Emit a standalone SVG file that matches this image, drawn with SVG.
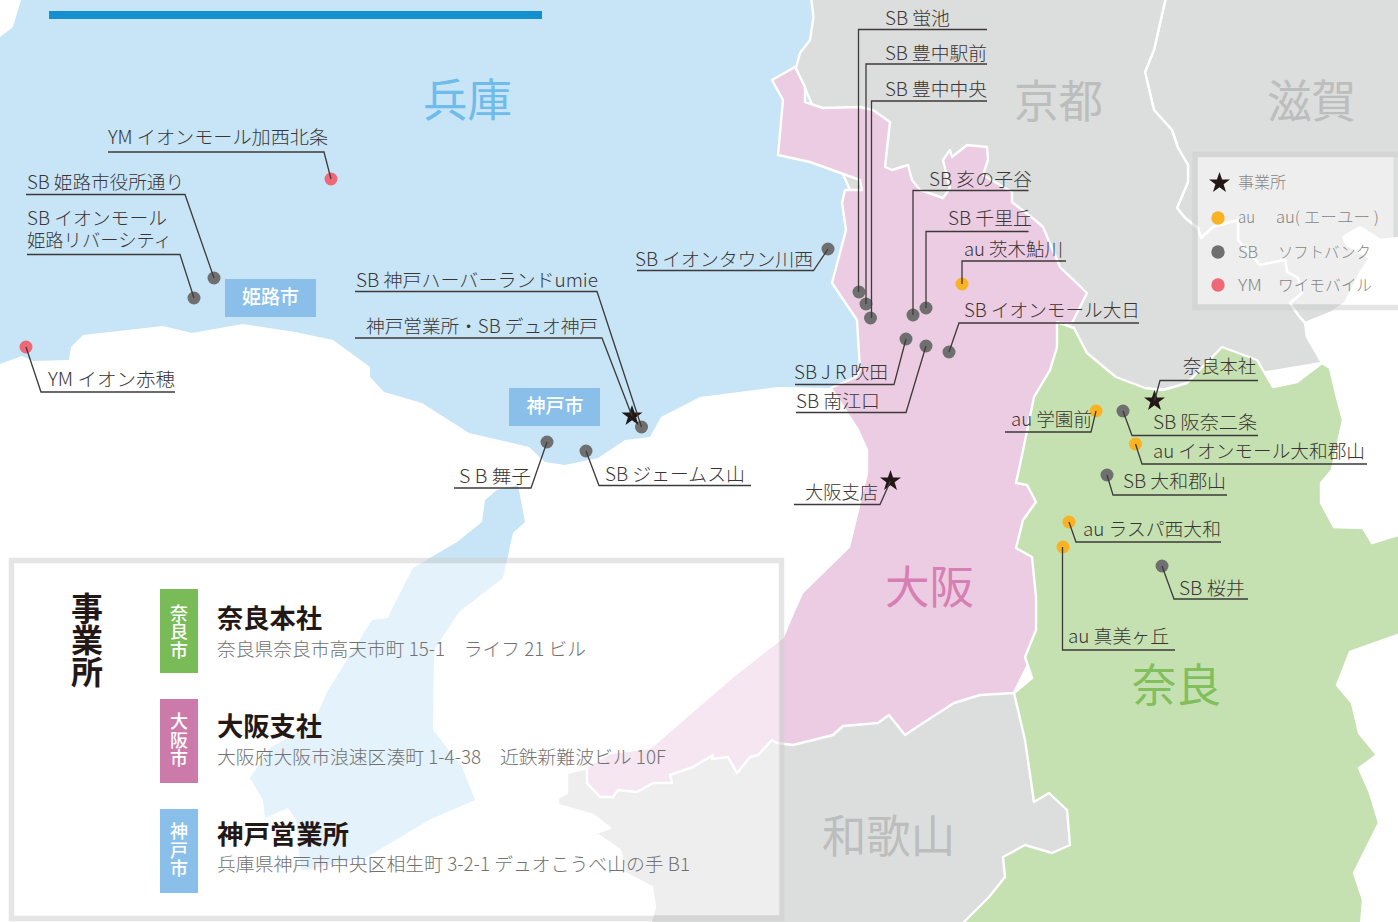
<svg xmlns="http://www.w3.org/2000/svg" width="1398" height="922" viewBox="0 0 1398 922">
<style>
text{font-family:"Noto Sans CJK JP","Noto Sans",sans-serif;}
.l{font-size:18.5px;font-weight:300;fill:#3a3534;}
.c{fill:none;stroke:#3e3a39;stroke-width:1.3;}
.gr{fill:#6f6f6f}.ye{fill:#f9b222}.re{fill:#ef6877}.st{fill:#231815}
.map{stroke:#fff;stroke-width:2.4;stroke-linejoin:round}
.t{font-size:45px;font-weight:400}
.bx{fill:#8abfe9}
.w{fill:#fff;font-size:19px;font-weight:500;text-anchor:middle}
.v{fill:#fff;font-size:18px;font-weight:500;writing-mode:vertical-rl;letter-spacing:.5px}
.lg{font-size:15.5px;font-weight:300;fill:#858585}
.h{font-size:26px;font-weight:700;fill:#231815}
.a{font-size:18.5px;font-weight:300;fill:#727171}
</style>
<defs>
<path id="star" d="M0,-11 L2.6,-3.4 L10.5,-3.4 L4.1,1.3 L6.5,9 L0,4.3 L-6.5,9 L-4.1,1.3 L-10.5,-3.4 L-2.6,-3.4Z"/>
</defs>
<g id="map">
<polygon fill="#c7e5f7" points="21,0 815,0 870,200 862,350 856,377 831,388 778,387 700,397 661,417 650,437 625,440 598,458 565,465 545,462 529,447 469,433 422,403 384,392 370,377 370,367 333,340 295,332 243,324 192,333 163,326 83,335 71,347 69,360 33,361 22,356 0,364 0,37 13,27"/>
<polygon fill="#c7e5f7" points="518,485 497,490 485,500 482,522 457,542 413,568 393,607 388,618 372,620 327,692 314,723 270,748 250,778 263,800 265,818 288,808 296,820 301,870 306,870 367,857 429,820 475,800 462,767 433,730 434,650 459,612 503,578 513,533 525,522"/>
<polygon class="map" fill="#dcdddd" points="567,773 587,768 640,770 780,720 1014,690 1075,800 1075,850 1000,925 650,925 655,907 652,887 625,873 620,850 595,833 610,828 593,815 558,805 558,798 567,793"/>
<polygon class="map" fill="#dcdddd" points="1166,-3 1401,-3 1401,238 1380,240 1360,227 1343,237 1347,245 1370,258 1360,273 1345,303 1332,312 1305,323 1298,315 1290,303 1302,293 1298,278 1287,272 1285,260 1260,265 1238,240 1238,220 1213,227 1201,238 1198,228 1185,218 1177,208 1188,182 1188,165 1178,148 1172,130 1154,110 1145,72 1154,50"/>
<polygon class="map" fill="#dcdddd" points="811,-3 1166,-3 1154,50 1145,72 1154,110 1172,130 1178,148 1188,165 1188,182 1177,208 1185,218 1198,228 1201,238 1213,227 1238,220 1238,240 1260,265 1285,260 1287,272 1298,278 1302,293 1290,303 1298,315 1305,323 1307,337 1322,363 1100,400 1060,320 850,190 796,68 800,53 810,40 813.500,17"/>
<polygon class="map" fill="#ebcce2" points="772,80 795,67 805,87 805,102 823,108 860,107 873,110 890,122 885,167 892,170 908,165 912,180 920,190 943,198 950,188 943,160 950,150 952,157 967,145 987,147 988,160 983,175 1012,192 1012,202 1035,220 1043,227 1060,267 1087,293 1072,323 1058,323 1080,400 1040,560 1040,640 1014,693 980,695 954,703 923,723 905,735 889,715 878,723 843,726 833,735 793,745 777,743 772,740 758,755 750,757 737,773 728,757 712,759 713,755 693,767 670,775 672,783 653,783 637,792 618,790 613,797 600,797 587,783 587,767 610,753 650,748 732,677 783,637 790,620 802,593 849,547 867,473 867,450 858,430 831,388 856,377 860,370 857,320 832,283 846,230 842,203 845,190 862,190 860,180 810,162 778,155 783,100"/>
<polygon class="map" fill="#c6e1b1" points="1057,322 1074,328 1087,353 1116,377 1145,388 1163,390 1187,383 1222,347 1257,360 1273,387 1297,382 1322,363 1330,368 1337,398 1343,420 1332,470 1321,483 1321,503 1334,527 1363,528 1372,543 1398,535 1401,535 1401,634 1398,635 1350,652 1337,685 1352,703 1359,733 1377,755 1359,768 1370,793 1379,823 1354,873 1363,900 1361,925 961,925 989,897 1005,877 1003,857 1025,845 1052,853 1070,845 1067,810 1049,793 1034,802 1025,740 1014,693 1032,678 1025,657 1036,630 1036,597 1032,557 1016,548 1023,520 1036,502 1027,485 1016,483 1021,460 1034,397 1050,370 1057,347"/>
</g>
<rect id="bar" x="49" y="11" width="493" height="8" fill="#1490cf"/>
<g id="panels">
<rect x="14" y="563" width="766" height="352" fill="#fff" fill-opacity=".5"/>
<rect x="11.500" y="560.500" width="770" height="358" fill="none" stroke="#cfcfcf" stroke-opacity=".54" stroke-width="5.500"/>
<rect x="1197.500" y="157" width="196" height="147" fill="#fff" fill-opacity=".5"/>
<rect x="1195" y="154.500" width="206" height="153" fill="none" stroke="#cfcfcf" stroke-opacity=".54" stroke-width="5.500"/>
</g>
<g id="region-labels">
<text class="t" x="423" y="117" textLength="89" lengthAdjust="spacingAndGlyphs" fill="#6fbbe9">兵庫</text>
<text class="t" x="1014" y="118" textLength="89" lengthAdjust="spacingAndGlyphs" fill="#bcbdbd">京都</text>
<text class="t" x="1267" y="118" textLength="89" lengthAdjust="spacingAndGlyphs" fill="#bcbdbd">滋賀</text>
<text class="t" x="885" y="604" textLength="89" lengthAdjust="spacingAndGlyphs" fill="#d77fb2">大阪</text>
<text class="t" x="1132" y="702" textLength="89" lengthAdjust="spacingAndGlyphs" fill="#80bf5c">奈良</text>
<text class="t" x="822" y="853" textLength="133" lengthAdjust="spacingAndGlyphs" fill="#bcbdbd">和歌山</text>
</g>
<g id="city-himeji"><rect class="bx" x="225" y="279" width="91" height="38"/><text class="w" x="270.500" y="304">姫路市</text></g>
<g id="city-kobe"><rect class="bx" x="509" y="388" width="91" height="38"/><text class="w" x="555" y="413">神戸市</text></g>

<g id="n1"><circle class="re" cx="331" cy="179" r="6.500"/><text class="l" x="108" y="144" textLength="220" lengthAdjust="spacingAndGlyphs">YM イオンモール加西北条</text></g>
<g id="n2"><circle class="gr" cx="214" cy="278" r="6.500"/><text class="l" x="27" y="189" textLength="157" lengthAdjust="spacingAndGlyphs">SB 姫路市役所通り</text></g>
<g id="n3"><circle class="gr" cx="194" cy="298" r="6.500"/><text class="l"><tspan x="27" y="225" textLength="140" lengthAdjust="spacingAndGlyphs">SB イオンモール</tspan><tspan x="27" y="247" textLength="145" lengthAdjust="spacingAndGlyphs">姫路リバーシティ</tspan></text></g>
<g id="n4"><circle class="re" cx="26" cy="347" r="6.500"/><text class="l" x="48" y="386" textLength="127" lengthAdjust="spacingAndGlyphs">YM イオン赤穂</text></g>
<g id="n5"><circle class="gr" cx="641.500" cy="427" r="6.500"/><text class="l" x="356" y="287" textLength="242" lengthAdjust="spacingAndGlyphs">SB 神戸ハーバーランドumie</text></g>
<g id="n6"><use href="#star" class="st" x="632" y="416"/><text class="l" x="366" y="333" textLength="232" lengthAdjust="spacingAndGlyphs">神戸営業所・SB デュオ神戸</text></g>
<g id="n7"><circle class="gr" cx="547" cy="442" r="6.500"/><text class="l" x="459" y="483" textLength="72" lengthAdjust="spacingAndGlyphs">S B 舞子</text></g>
<g id="n8"><circle class="gr" cx="586" cy="451" r="6.500"/><text class="l" x="605" y="481" textLength="140" lengthAdjust="spacingAndGlyphs">SB ジェームス山</text></g>
<g id="n9"><circle class="gr" cx="828" cy="249" r="6.500"/><text class="l" x="635" y="266" textLength="178" lengthAdjust="spacingAndGlyphs">SB イオンタウン川西</text></g>
<g id="n10"><circle class="gr" cx="859" cy="292" r="6.500"/><text class="l" x="885" y="25" textLength="65" lengthAdjust="spacingAndGlyphs">SB 蛍池</text></g>
<g id="n11"><circle class="gr" cx="866" cy="304" r="6.500"/><text class="l" x="885" y="60" textLength="102" lengthAdjust="spacingAndGlyphs">SB 豊中駅前</text></g>
<g id="n12"><circle class="gr" cx="870.500" cy="318" r="6.500"/><text class="l" x="885" y="96" textLength="102" lengthAdjust="spacingAndGlyphs">SB 豊中中央</text></g>
<g id="n13"><circle class="gr" cx="913" cy="315" r="6.500"/><text class="l" x="929" y="186" textLength="103" lengthAdjust="spacingAndGlyphs">SB 亥の子谷</text></g>
<g id="n14"><circle class="gr" cx="926" cy="308" r="6.500"/><text class="l" x="948" y="225" textLength="84" lengthAdjust="spacingAndGlyphs">SB 千里丘</text></g>
<g id="n15"><circle class="ye" cx="962" cy="284" r="6.500"/><text class="l" x="964" y="256" textLength="99" lengthAdjust="spacingAndGlyphs">au 茨木鮎川</text></g>
<g id="n16"><circle class="gr" cx="949" cy="352" r="6.500"/><text class="l" x="964" y="317" textLength="176" lengthAdjust="spacingAndGlyphs">SB イオンモール大日</text></g>
<g id="n17"><circle class="gr" cx="906" cy="339" r="6.500"/><text class="l" x="794" y="379" textLength="94" lengthAdjust="spacingAndGlyphs">SB J R 吹田</text></g>
<g id="n18"><circle class="gr" cx="926" cy="346" r="6.500"/><text class="l" x="796" y="408" textLength="84" lengthAdjust="spacingAndGlyphs">SB 南江口</text></g>
<g id="n19"><use href="#star" class="st" x="1154.500" y="401"/><text class="l" x="1183" y="373" textLength="73" lengthAdjust="spacingAndGlyphs">奈良本社</text></g>
<g id="n20"><circle class="ye" cx="1096" cy="411" r="6.500"/><text class="l" x="1011" y="426" textLength="81" lengthAdjust="spacingAndGlyphs">au 学園前</text></g>
<g id="n21"><circle class="gr" cx="1123" cy="411" r="6.500"/><text class="l" x="1153" y="429" textLength="104" lengthAdjust="spacingAndGlyphs">SB 阪奈二条</text></g>
<g id="n22"><circle class="ye" cx="1135.500" cy="444" r="6.500"/><text class="l" x="1153" y="458" textLength="212" lengthAdjust="spacingAndGlyphs">au イオンモール大和郡山</text></g>
<g id="n23"><circle class="gr" cx="1107" cy="475" r="6.500"/><text class="l" x="1123" y="488" textLength="103" lengthAdjust="spacingAndGlyphs">SB 大和郡山</text></g>
<g id="n24"><circle class="ye" cx="1069" cy="522" r="6.500"/><text class="l" x="1083" y="536" textLength="138" lengthAdjust="spacingAndGlyphs">au ラスパ西大和</text></g>
<g id="n25"><circle class="ye" cx="1063" cy="547" r="6.500"/><text class="l" x="1068" y="643" textLength="101" lengthAdjust="spacingAndGlyphs">au 真美ヶ丘</text></g>
<g id="n26"><circle class="gr" cx="1162" cy="566" r="6.500"/><text class="l" x="1179" y="595" textLength="66" lengthAdjust="spacingAndGlyphs">SB 桜井</text></g>
<g id="n27"><use href="#star" class="st" x="890.500" y="481"/><text class="l" x="805" y="499" textLength="73" lengthAdjust="spacingAndGlyphs">大阪支店</text></g>

<g id="connectors">
<polyline class="c" points="108,152 324,152 331,179"/>
<polyline class="c" points="26,194.500 185,194.500 214,278"/>
<polyline class="c" points="27,254.500 180,254.500 194,298"/>
<polyline class="c" points="175,392 41,392 26,347"/>
<polyline class="c" points="355,291.500 597,291.500 641.500,427"/>
<polyline class="c" points="355,338 602,338 632,416"/>
<polyline class="c" points="454,488 531,488 547,442"/>
<polyline class="c" points="751,485.500 599,485.500 586,451"/>
<polyline class="c" points="637,270.500 813.500,270.500 828,249"/>
<polyline class="c" points="987,29.500 858.500,29.500 858.500,292"/>
<polyline class="c" points="987,64 866,64 866,304"/>
<polyline class="c" points="987,101 871.500,101 871.500,318"/>
<polyline class="c" points="1028.500,190.500 913,190.500 913,315"/>
<polyline class="c" points="1028.500,231.500 926,231.500 926,308"/>
<polyline class="c" points="1066,261 962,261 962,284"/>
<polyline class="c" points="1139,323 959,323 949,352"/>
<polyline class="c" points="795,384.500 894,384.500 906,339"/>
<polyline class="c" points="796,412.500 906,412.500 926,346"/>
<polyline class="c" points="1258,380.500 1160,380.500 1154.500,401"/>
<polyline class="c" points="1005,432 1091,432 1096,411"/>
<polyline class="c" points="1258,435.500 1132,435.500 1123,411"/>
<polyline class="c" points="1367,464 1142,464 1135.500,444"/>
<polyline class="c" points="1227,495 1113,495 1107,475"/>
<polyline class="c" points="1221,542 1076,542 1069,522"/>
<polyline class="c" points="1175,650 1062.500,650 1062.500,547"/>
<polyline class="c" points="1248,599 1174,599 1162,566"/>
<polyline class="c" points="794,504.500 880,504.500 890.500,481"/>
</g>

<g id="legend">
<use href="#star" class="st" x="1219.500" y="183"/>
<text class="lg" x="1238" y="188" textLength="48" lengthAdjust="spacingAndGlyphs">事業所</text>
<circle class="ye" cx="1218" cy="218" r="6.700"/>
<text class="lg" x="1238" y="223" textLength="17" lengthAdjust="spacingAndGlyphs">au</text>
<text class="lg" x="1276" y="223" textLength="103" lengthAdjust="spacingAndGlyphs">au( エーユー )</text>
<circle class="gr" cx="1218" cy="252" r="6.700"/>
<text class="lg" x="1238" y="258" textLength="20" lengthAdjust="spacingAndGlyphs">SB</text>
<text class="lg" x="1278" y="258" textLength="93" lengthAdjust="spacingAndGlyphs">ソフトバンク</text>
<circle class="re" cx="1218" cy="285" r="6.700"/>
<text class="lg" x="1238" y="291" textLength="24" lengthAdjust="spacingAndGlyphs">YM</text>
<text class="lg" x="1278" y="291" textLength="94" lengthAdjust="spacingAndGlyphs">ワイモバイル</text>
</g>

<g id="offices">
<text x="87" y="592" font-size="32" font-weight="700" fill="#231815" style="writing-mode:vertical-rl">事業所</text>
<g id="office-nara">
<rect x="160" y="589" width="38" height="84" fill="#79bb57"/>
<text class="v" x="179" y="604">奈良市</text>
<text class="h" x="217" y="628" textLength="105" lengthAdjust="spacingAndGlyphs">奈良本社</text>
<text class="a" x="217" y="656" textLength="369" lengthAdjust="spacingAndGlyphs">奈良県奈良市高天市町 15-1　ライフ 21 ビル</text>
</g>
<g id="office-osaka">
<rect x="160" y="699" width="38" height="84" fill="#cc7aaa"/>
<text class="v" x="179" y="712.500">大阪市</text>
<text class="h" x="217" y="736" textLength="105" lengthAdjust="spacingAndGlyphs">大阪支社</text>
<text class="a" x="217" y="764" textLength="449" lengthAdjust="spacingAndGlyphs">大阪府大阪市浪速区湊町 1-4-38　近鉄新難波ビル 10F</text>
</g>
<g id="office-kobe">
<rect class="bx" x="160" y="809" width="38" height="84"/>
<text class="v" x="179" y="822.500">神戸市</text>
<text class="h" x="217" y="844" textLength="132" lengthAdjust="spacingAndGlyphs">神戸営業所</text>
<text class="a" x="217" y="871" textLength="473" lengthAdjust="spacingAndGlyphs">兵庫県神戸市中央区相生町 3-2-1 デュオこうべ山の手 B1</text>
</g>
</g>
</svg>
